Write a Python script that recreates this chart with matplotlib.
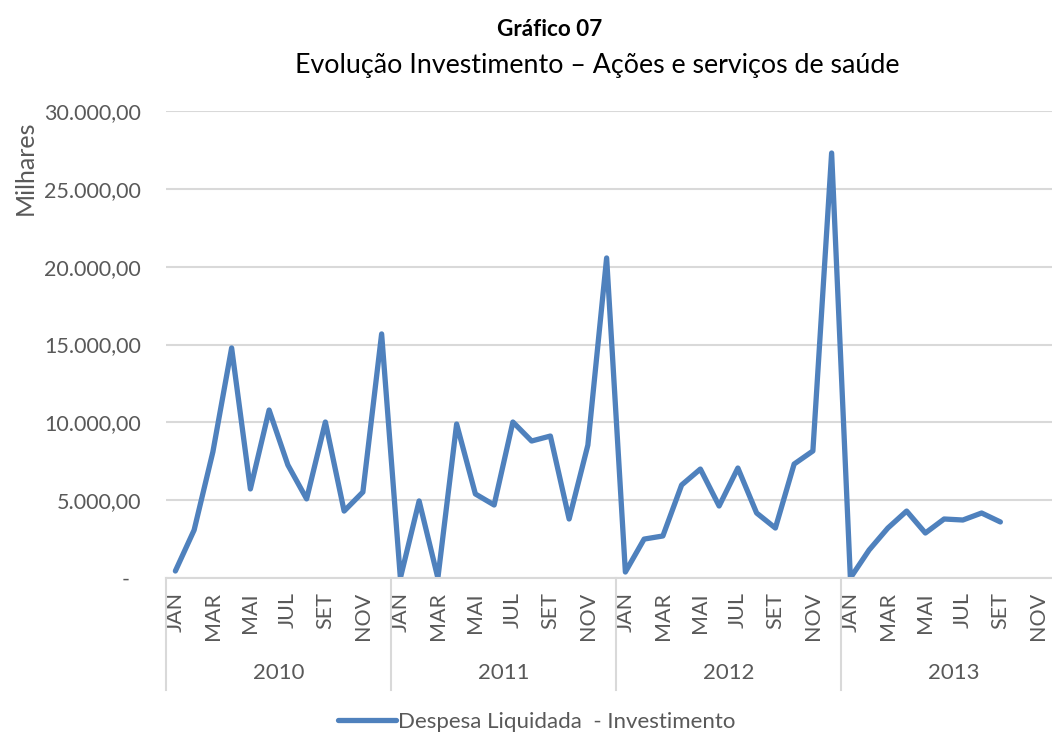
import numpy as np
import matplotlib.pyplot as plt
import matplotlib.transforms as mtransforms
from matplotlib.ticker import FuncFormatter, MultipleLocator

plt.rcParams['font.family'] = ['Lato', 'DejaVu Sans']

# --- data (thousands of R$) ---
years = ['2010', '2011', '2012', '2013']
months = ['JAN', 'FEV', 'MAR', 'ABR', 'MAI', 'JUN',
          'JUL', 'AGO', 'SET', 'OUT', 'NOV', 'DEZ']

values_2010 = [450, 3080, 8100, 14780, 5720, 10790, 7260, 5080, 10020, 4300, 5520, 15680]
values_2011 = [0, 4950, 0, 9890, 5400, 4690, 10020, 8800, 9120, 3790, 8540, 20560]
values_2012 = [385, 2500, 2700, 5975, 7000, 4625, 7065, 4175, 3210, 7320, 8160, 27300]
values_2013 = [0, 1800, 3210, 4300, 2890, 3790, 3725, 4175, 3600, np.nan, np.nan, np.nan]

series = np.array(values_2010 + values_2011 + values_2012 + values_2013, dtype=float)
x = np.arange(len(series))

grey_text = '#595959'
grid_grey = '#D9D9D9'
blue = '#4F81BD'
axis_fs = 15.5

fig = plt.figure(figsize=(10.52, 7.36), dpi=100)
ax = fig.add_axes([166 / 1052, (736 - 578) / 736, 900 / 1052, 467 / 736])

line, = ax.plot(x, series, color=blue, lw=3.8, solid_joinstyle='round',
                solid_capstyle='round', label='Despesa Liquidada  - Investimento')

ax.set_xlim(-0.5, len(series) - 0.5)
ax.set_ylim(0, 30000)

# y axis
ax.yaxis.set_major_locator(MultipleLocator(5000))


def br_fmt(v, pos):
    if v == 0:
        return '-  '
    s = f'{v:,.2f}'
    return s.replace(',', 'X').replace('.', ',').replace('X', '.')


ax.yaxis.set_major_formatter(FuncFormatter(br_fmt))
ax.grid(axis='y', color=grid_grey, lw=1.5)
ax.set_axisbelow(True)
ax.tick_params(axis='y', length=0, pad=18, labelsize=axis_fs, labelcolor=grey_text)

# x axis: every other month label
ax.set_xticks(x[::2])
ax.set_xticklabels([months[i % 12] for i in x[::2]], rotation=90)
ax.tick_params(axis='x', length=0, pad=10, labelsize=15.5, labelcolor=grey_text)

for side in ['top', 'right', 'left']:
    ax.spines[side].set_visible(False)
ax.spines['bottom'].set_color(grid_grey)
ax.spines['bottom'].set_linewidth(1.5)

# year labels and separators
trans = mtransforms.blended_transform_factory(ax.transData, ax.transAxes)
for k, yr in enumerate(years):
    ax.text(k * 12 + 5.5, -0.203, yr, transform=trans, ha='center', va='center',
            fontsize=16, color=grey_text)
for k in range(len(years) + 1):
    ax.plot([k * 12 - 0.5, k * 12 - 0.5], [0, -0.24], transform=trans,
            color=grid_grey, lw=1.5, clip_on=False)

# titles
fig.text(550 / 1052, 1 - 30 / 736, 'Gráfico 07', ha='center', va='center',
         fontsize=16.2, fontweight='bold', color='black')
fig.text(597 / 1052, 1 - 66 / 736, 'Evolução Investimento – Ações e serviços de saúde',
         ha='center', va='center', fontsize=19.3, color='black')
fig.text(25 / 1052, 1 - 168 / 736, 'Milhares', rotation=90, ha='center', va='center',
         fontsize=18, color=grey_text)

fig.legend(handles=[line], loc='center', bbox_to_anchor=(537 / 1052, 1 - 722 / 736),
           frameon=False, fontsize=16, handlelength=2.6, handletextpad=0.1,
           labelcolor=grey_text)

plt.savefig('out.png', dpi=100)
